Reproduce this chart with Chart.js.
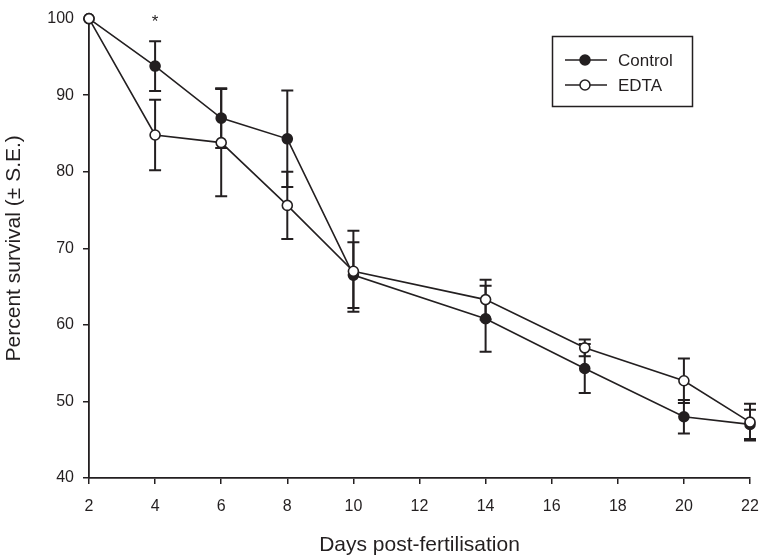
<!DOCTYPE html>
<html>
<head>
<meta charset="utf-8">
<script src="https://cdn.jsdelivr.net/npm/chart.js@4.4.1/dist/chart.umd.min.js"></script>
<style>
  html, body { margin: 0; padding: 0; background: #fff; }
  #wrap { width: 761px; height: 558px; position: relative; }
</style>
</head>
<body>
<div id="wrap"><canvas id="survival"></canvas></div>
<script>
// days post-fertilisation
var days = [2, 4, 6, 8, 10, 14, 17, 20, 22];
// percent survival and standard errors
var controlMean = [100, 93.8, 87.0, 84.3, 66.5, 60.8, 54.3, 48.0, 47.0];
var controlSE   = [0, 3.25, 3.9, 6.3, 4.3, 4.3, 3.2, 2.2, 1.9];
var edtaMean    = [100, 84.8, 83.8, 75.6, 67.0, 63.3, 57.0, 52.7, 47.3];
var edtaSE      = [0, 4.6, 7.0, 4.4, 5.3, 2.6, 1.1, 2.9, 2.4];
var xTicks = [2, 4, 6, 8, 10, 12, 14, 16, 18, 20, 22];
var yTicks = [40, 50, 60, 70, 80, 90, 100];
// significance marker
var starDay = 4, starLabel = '*';

var ink = '#231f20';
var font = '"Liberation Sans", Arial, sans-serif';

function points(means) {
    return days.map((d, i) => ({ x: d, y: means[i] }));
}

// draws the S.E. bars, the asterisk and the boxed legend
var extras = {
    id: 'extras',
    beforeDatasetsDraw: function (chart) {
        var ctx = chart.ctx, xs = chart.scales.x, ys = chart.scales.y;
        ctx.save();
        ctx.strokeStyle = ink;
        ctx.lineWidth = 2;
        [[controlMean, controlSE], [edtaMean, edtaSE]].forEach(function (s) {
            days.forEach(function (d, i) {
                if (!s[1][i]) return;
                var px = xs.getPixelForValue(d);
                var top = ys.getPixelForValue(s[0][i] + s[1][i]);
                var bot = ys.getPixelForValue(s[0][i] - s[1][i]);
                ctx.beginPath();
                ctx.moveTo(px, top); ctx.lineTo(px, bot);
                ctx.moveTo(px - 6, top); ctx.lineTo(px + 6, top);
                ctx.moveTo(px - 6, bot); ctx.lineTo(px + 6, bot);
                ctx.stroke();
            });
        });
        ctx.restore();
    },
    afterDraw: function (chart) {
        var ctx = chart.ctx, xs = chart.scales.x;
        ctx.save();
        ctx.fillStyle = ink;
        ctx.font = '17px ' + font;
        ctx.textAlign = 'center';
        ctx.textBaseline = 'middle';
        ctx.fillText(starLabel, xs.getPixelForValue(starDay), 22);

        // legend box
        ctx.strokeStyle = ink;
        ctx.lineWidth = 1.5;
        ctx.strokeRect(552.5, 36.5, 140, 70);
        ctx.font = '17px ' + font;
        ctx.textAlign = 'left';
        [1, 0].forEach(function (i, row) {
            var ds = chart.data.datasets[i];
            var y = 60 + row * 25;
            ctx.lineWidth = 1.5;
            ctx.beginPath();
            ctx.moveTo(565, y); ctx.lineTo(607, y);
            ctx.stroke();
            ctx.beginPath();
            ctx.arc(585, y, 5, 0, Math.PI * 2);
            ctx.fillStyle = ds.pointBackgroundColor;
            ctx.fill();
            ctx.stroke();
            ctx.fillStyle = ink;
            ctx.fillText(ds.label, 618, y + 1);
        });
        ctx.restore();
    }
};

var survival = document.getElementById('survival').getContext('2d');
var survivalChart = new Chart(survival, {
    type: 'line',
    data: {
        datasets: [
            {
                label: 'EDTA',
                data: points(edtaMean),
                borderColor: ink,
                borderWidth: 1.6,
                pointBackgroundColor: '#ffffff',
                pointBorderColor: ink,
                pointBorderWidth: 1.6,
                pointRadius: 5,
                clip: false
            },
            {
                label: 'Control',
                data: points(controlMean),
                borderColor: ink,
                borderWidth: 1.6,
                pointBackgroundColor: ink,
                pointBorderColor: ink,
                pointBorderWidth: 1.6,
                pointRadius: 5,
                clip: false
            }
        ]
    },
    options: {
        responsive: true,
        maintainAspectRatio: false,
        animation: false,
        layout: { padding: { top: 17, right: 11, left: 0, bottom: 0 } },
        plugins: {
            legend: { display: false },
            tooltip: { enabled: false }
        },
        scales: {
            x: {
                type: 'linear',
                min: 2,
                max: 22,
                afterBuildTicks: function (axis) { axis.ticks = xTicks.map(v => ({ value: v })); },
                afterFit: function (axis) { axis.height = 80; axis.paddingLeft = 0; axis.paddingRight = 0; },
                grid: { display: true, drawOnChartArea: false, drawTicks: true, tickLength: 6, color: ink, lineWidth: 1.5 },
                border: { display: true, color: ink, width: 1.8 },
                ticks: { color: ink, font: { family: font, size: 16 }, padding: 13, maxRotation: 0 },
                title: { display: true, text: 'Days post-fertilisation', color: ink, font: { family: font, size: 21 }, padding: { top: 10, bottom: 0 } }
            },
            y: {
                min: 40,
                max: 100,
                afterBuildTicks: function (axis) { axis.ticks = yTicks.map(v => ({ value: v })); },
                afterFit: function (axis) { axis.width = 89; },
                grid: { display: true, drawOnChartArea: false, drawTicks: true, tickLength: 6, color: ink, lineWidth: 1.5 },
                border: { display: true, color: ink, width: 1.8 },
                ticks: { color: ink, font: { family: font, size: 16 }, padding: 9 },
                title: { display: true, text: 'Percent survival (± S.E.)', color: ink, font: { family: font, size: 21 }, padding: { top: 2, bottom: 0 } }
            }
        }
    },
    plugins: [extras]
});
</script>
</body>
</html>
